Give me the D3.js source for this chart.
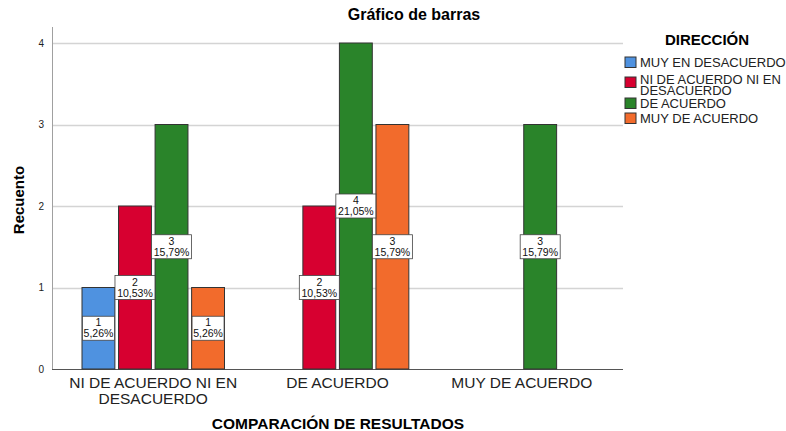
<!doctype html>
<html>
<head>
<meta charset="utf-8">
<title>Gráfico de barras</title>
<script src="https://d3js.org/d3.v7.min.js"></script>
<style>
  body { margin: 0; background: #fff; }
  text { font-family: "Liberation Sans", Arial, sans-serif; }
</style>
</head>
<body>
<div class="chart"></div>
<script>
// categories on x axis
var categories = ["NI DE ACUERDO NI EN DESACUERDO", "DE ACUERDO", "MUY DE ACUERDO"];
// series (DIRECCIÓN)
var seriesNames = ["MUY EN DESACUERDO", "NI DE ACUERDO NI EN DESACUERDO", "DE ACUERDO", "MUY DE ACUERDO"];
var seriesColors = ["#4f92e0", "#d70030", "#2a842a", "#f26b2c"];
// counts per series, one value per category
var muyEnDesacuerdo = [1, 0, 0];
var niDeAcuerdo = [2, 2, 0];
var deAcuerdo = [3, 4, 3];
var muyDeAcuerdo = [1, 3, 0];
var yTicks = [0, 1, 2, 3, 4];
var total = 19;

var seriesValues = [muyEnDesacuerdo, niDeAcuerdo, deAcuerdo, muyDeAcuerdo];

var width = 786, height = 431;
var svg = d3.select(".chart").append("svg")
  .attr("width", width).attr("height", height);

var x0 = d3.scaleBand().domain(categories).range([61, 614]);
var x1 = d3.scaleBand().domain(seriesNames).range([21, 163.5]).paddingInner(0.1);
var y = d3.scaleLinear().domain([0, 4]).range([369, 43]);

// gridlines
svg.append("g").selectAll("line").data(yTicks.slice(1)).enter().append("line")
  .attr("x1", 52).attr("x2", 623)
  .attr("y1", function(d){ return Math.round(y(d)) + 0.5; })
  .attr("y2", function(d){ return Math.round(y(d)) + 0.5; })
  .attr("stroke", "#d4d4d4").attr("stroke-width", 1.5);

// axes lines
svg.append("line").attr("x1", 52.5).attr("x2", 52.5).attr("y1", 27).attr("y2", 369)
  .attr("stroke", "#a0a0a0");
svg.append("line").attr("x1", 52).attr("x2", 623).attr("y1", 369.5).attr("y2", 369.5)
  .attr("stroke", "#555");

svg.append("g").selectAll("text").data(yTicks).enter().append("text")
  .attr("x", 44).attr("y", function(d){ return y(d) + 3.5; })
  .attr("text-anchor", "end").attr("font-size", 10).attr("fill", "#222")
  .text(function(d){ return d; });

// bars
var rows = [];
seriesValues.forEach(function(vals, si){
  vals.forEach(function(v, ci){
    if (v > 0) rows.push({ s: seriesNames[si], si: si, c: categories[ci], v: v });
  });
});

svg.append("g").selectAll("rect").data(rows).enter().append("rect")
  .attr("x", function(d){ return x0(d.c) + x1(d.s); })
  .attr("width", x1.bandwidth())
  .attr("y", function(d){ return y(d.v); })
  .attr("height", function(d){ return y(0) - y(d.v); })
  .attr("fill", function(d){ return seriesColors[d.si]; })
  .attr("stroke", "#333").attr("stroke-width", 1);

// value labels
var lab = svg.append("g").selectAll("g").data(rows).enter().append("g")
  .attr("transform", function(d){
    return "translate(" + (x0(d.c) + x1(d.s) + x1.bandwidth() / 2) + "," + y(d.v / 2) + ")";
  });
lab.append("rect")
  .attr("x", function(d){ return d.v * 100 / total >= 10 ? -20 : -16; })
  .attr("width", function(d){ return d.v * 100 / total >= 10 ? 40 : 32; })
  .attr("y", -12).attr("height", 24)
  .attr("fill", "#fff").attr("stroke", "#444").attr("stroke-width", 0.8);
lab.append("text").attr("text-anchor", "middle").attr("y", -2)
  .attr("font-size", 10.5).attr("fill", "#111").text(function(d){ return d.v; });
lab.append("text").attr("text-anchor", "middle").attr("y", 9)
  .attr("font-size", 10.5).attr("fill", "#111")
  .text(function(d){ return (d.v * 100 / total).toFixed(2).replace(".", ",") + "%"; });

// x tick labels
var xLabelLines = [["NI DE ACUERDO NI EN", "DESACUERDO"], ["DE ACUERDO"], ["MUY DE ACUERDO"]];
var xt = svg.append("g").selectAll("text").data(categories).enter().append("text")
  .attr("text-anchor", "middle").attr("font-size", 15.5).attr("fill", "#222")
  .attr("transform", function(d){ return "translate(" + (x0(d) + x0.bandwidth() / 2) + ",388)"; });
xt.selectAll("tspan").data(function(d, i){ return xLabelLines[i]; }).enter().append("tspan")
  .attr("x", 0).attr("dy", function(d, i){ return i === 0 ? 0 : 16; })
  .text(function(d){ return d; });

// titles
svg.append("text").attr("x", 414).attr("y", 20).attr("text-anchor", "middle")
  .attr("font-size", 16).attr("font-weight", "bold").text("Gráfico de barras");
svg.append("text").attr("x", 338).attr("y", 429).attr("text-anchor", "middle")
  .attr("font-size", 15.5).attr("font-weight", "bold").text("COMPARACIÓN DE RESULTADOS");
svg.append("text").attr("transform", "translate(24,200) rotate(-90)").attr("text-anchor", "middle")
  .attr("font-size", 15).attr("font-weight", "bold").text("Recuento");

// legend
svg.append("text").attr("x", 707).attr("y", 45).attr("text-anchor", "middle")
  .attr("font-size", 15).attr("font-weight", "bold").text("DIRECCIÓN");
var legendLines = [["MUY EN DESACUERDO"], ["NI DE ACUERDO NI EN", "DESACUERDO"], ["DE ACUERDO"], ["MUY DE ACUERDO"]];
var legendBase = [67, 84, 108, 123];
var legendBox = [57, 77, 98, 113];
var lg = svg.append("g").selectAll("g").data(seriesNames).enter().append("g");
lg.append("rect").attr("x", 625).attr("y", function(d, i){ return legendBox[i]; })
  .attr("width", 11).attr("height", 10.5)
  .attr("fill", function(d, i){ return seriesColors[i]; }).attr("stroke", "#333");
var lt = lg.append("text").attr("y", function(d, i){ return legendBase[i]; })
  .attr("font-size", 13).attr("fill", "#222");
lt.selectAll("tspan").data(function(d, i){ return legendLines[i]; }).enter().append("tspan")
  .attr("x", 640).attr("dy", function(d, i){ return i === 0 ? 0 : 11; })
  .text(function(d){ return d; });
</script>
</body>
</html>
